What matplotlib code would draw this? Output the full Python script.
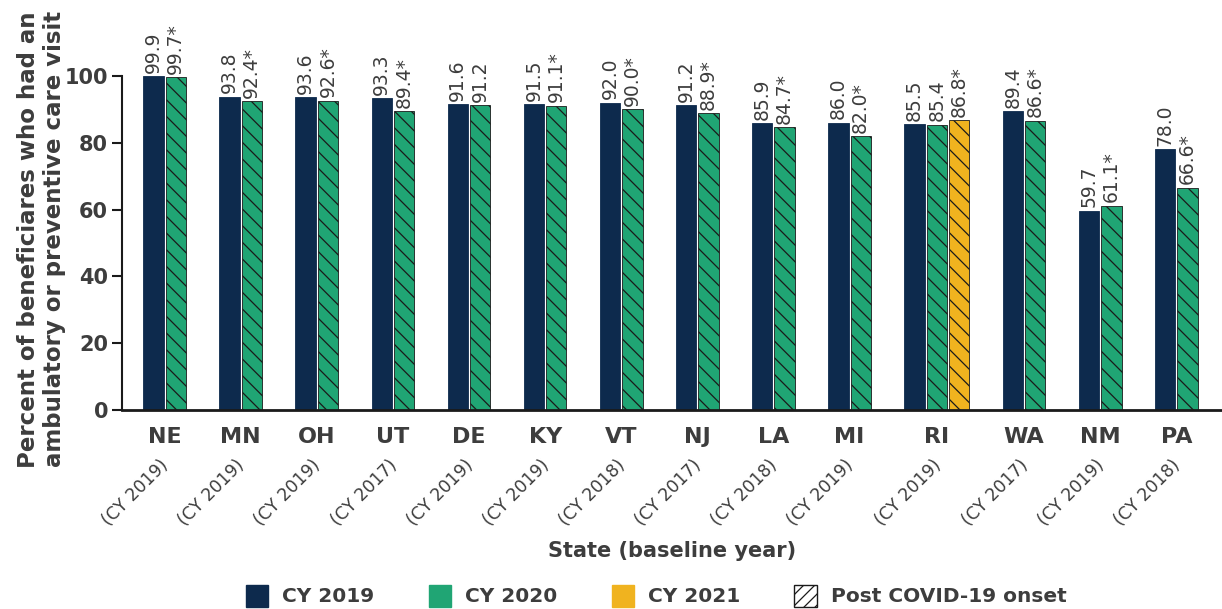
import matplotlib
matplotlib.use("Agg")
import matplotlib.pyplot as plt
from matplotlib.patches import Patch
import numpy as np

plt.rcParams['font.family'] = ['DejaVu Sans']
plt.rcParams['hatch.linewidth'] = 0.9
plt.rcParams['hatch.color'] = '#1a1a1a'

# Data
states = ["NE", "MN", "OH", "UT", "DE", "KY", "VT", "NJ", "LA", "MI", "RI", "WA", "NM", "PA"]
baseline = ["CY 2019", "CY 2019", "CY 2019", "CY 2017", "CY 2019", "CY 2019", "CY 2018",
            "CY 2017", "CY 2018", "CY 2019", "CY 2019", "CY 2017", "CY 2019", "CY 2018"]
cy2019 = [99.9, 93.8, 93.6, 93.3, 91.6, 91.5, 92.0, 91.2, 85.9, 86.0, 85.5, 89.4, 59.7, 78.0]
cy2020 = [99.7, 92.4, 92.6, 89.4, 91.2, 91.1, 90.0, 88.9, 84.7, 82.0, 85.4, 86.6, 61.1, 66.6]
sig2020 = [True, True, True, True, False, True, True, True, True, True, False, True, True, True]
cy2021 = {"RI": 86.8}
sig2021 = {"RI": True}

NAVY = "#0d2a4d"
GREEN = "#20a574"
GOLD = "#f0b31f"
TEXT = "#3d3d3d"
HATCH = "\\\\"

fig = plt.figure(figsize=(12.22, 6.09), dpi=100)
ax = fig.add_axes([0.0998, 0.3268, 0.9002, 0.5484])

bar_w = 1.0
inner = 0.1
group_gap = 1.65

x = 0.0
centers = []
for i, st in enumerate(states):
    series = [(cy2019[i], NAVY, None, False),
              (cy2020[i], GREEN, HATCH, sig2020[i])]
    if st in cy2021:
        series.append((cy2021[st], GOLD, HATCH, sig2021[st]))
    n = len(series)
    pos = [x + k * (bar_w + inner) for k in range(n)]
    for (val, col, hatch, sig), p in zip(series, pos):
        if hatch:
            ax.bar(p, val, width=bar_w, color=col, hatch=hatch,
                   edgecolor="#1a1a1a", linewidth=0.6, align="edge")
        else:
            ax.bar(p, val, width=bar_w, color=col, edgecolor=col,
                   linewidth=0.6, align="edge")
        label = f"{val:.1f}" + ("*" if sig else "")
        ax.annotate(label, (p + bar_w / 2, val), xytext=(0, 2.5),
                    textcoords="offset points", rotation=90,
                    ha="center", va="bottom", fontsize=13.5,
                    color=TEXT, annotation_clip=False)
    centers.append((pos[0] + pos[-1] + bar_w) / 2)
    x = pos[-1] + bar_w + group_gap

right_end = x - group_gap
ax.set_xlim(-1.05, right_end + 1.2)
ax.set_ylim(0, 100)

ax.set_xticks(centers)
ax.set_xticklabels(states, fontsize=16, fontweight="bold", color=TEXT)
ax.tick_params(axis="x", length=0, pad=12)

for c, b in zip(centers, baseline):
    ax.annotate(f"({b})", (c, 0), xycoords=("data", "axes fraction"),
                xytext=(5.5, -33), textcoords="offset points",
                rotation=45, ha="right", va="top", fontsize=12.5,
                color=TEXT, annotation_clip=False)

ax.set_yticks([0, 20, 40, 60, 80, 100])
ax.set_yticklabels(["0", "20", "40", "60", "80", "100"], fontsize=15,
                   fontweight="bold", color=TEXT)
ax.tick_params(axis="y", length=7, width=1.5, pad=3, color="#1a1a1a")

for s in ["top", "right"]:
    ax.spines[s].set_visible(False)
ax.spines["left"].set_linewidth(1.5)
ax.spines["bottom"].set_linewidth(2.0)
ax.spines["left"].set_color("#1a1a1a")
ax.spines["bottom"].set_color("#1a1a1a")

fig.text(0.034, 0.607, "Percent of beneficiares who had an\nambulatory or preventive care visit",
         rotation=90, ha="center", va="center", fontsize=16.5,
         fontweight="bold", color=TEXT, linespacing=1.15)

fig.text(0.55, 0.095, "State (baseline year)", ha="center", va="center",
         fontsize=15, fontweight="bold", color=TEXT)

handles = [
    Patch(facecolor=NAVY, edgecolor=NAVY, label="CY 2019"),
    Patch(facecolor=GREEN, edgecolor=GREEN, label="CY 2020"),
    Patch(facecolor=GOLD, edgecolor=GOLD, label="CY 2021"),
    Patch(facecolor="white", edgecolor="#1a1a1a", hatch="///", label="Post COVID-19 onset"),
]
leg = fig.legend(handles=handles, loc="center", bbox_to_anchor=(0.537, 0.022),
                 ncol=4, frameon=False, handlelength=1.1,
                 handleheight=1.3, handletextpad=0.7, columnspacing=2.7,
                 prop={"weight": "bold", "size": 14.5})
for t in leg.get_texts():
    t.set_color(TEXT)

fig.savefig("out.png", dpi=100)
